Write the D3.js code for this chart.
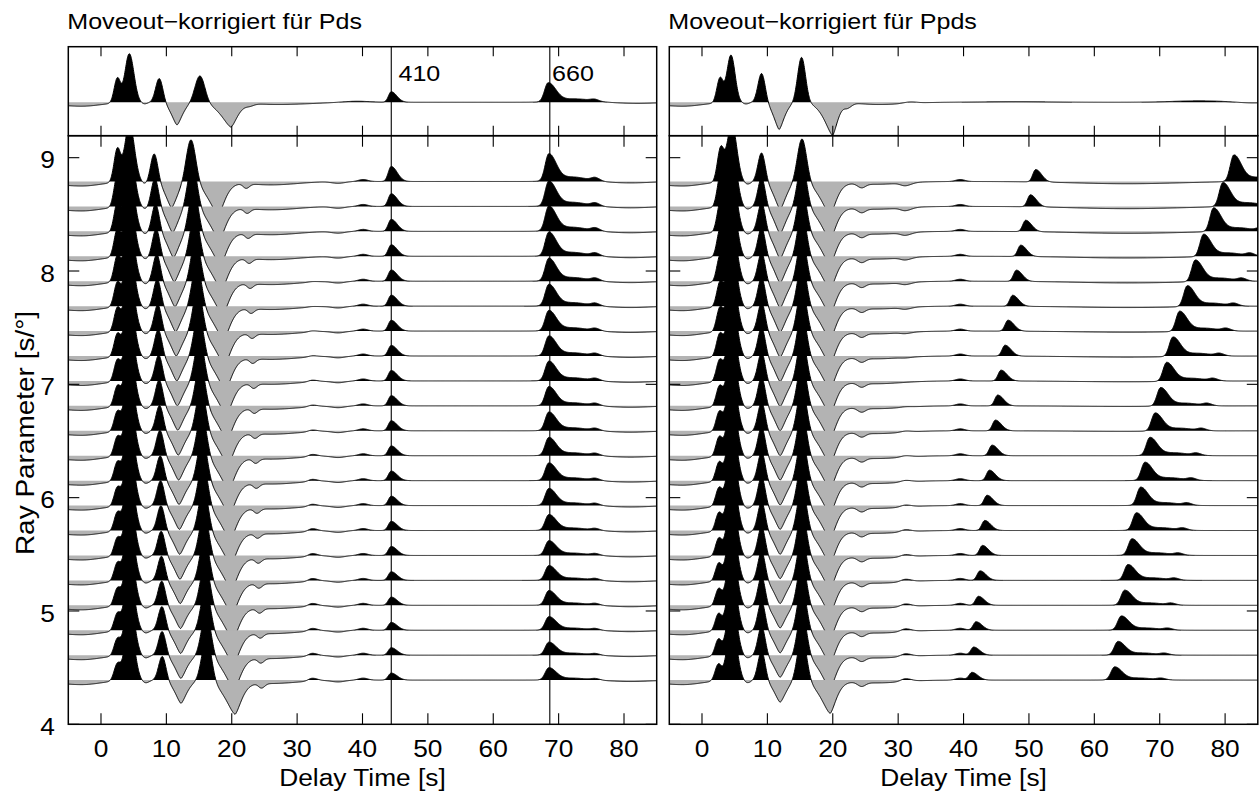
<!DOCTYPE html>
<html>
<head>
<meta charset="utf-8">
<script src="https://cdn.jsdelivr.net/npm/d3@7"></script>
<style>
  body { margin: 0; background: #fff; }
  svg text { font-family: "Liberation Sans", Arial, Helvetica, sans-serif; fill: #000; }
  .title { font-size: 22px; }
  .axis { font-size: 23.5px; }
</style>
</head>
<body>
<svg id="chart" width="1259" height="793"></svg>
<script>
// ---- data ----
const rayParams = [8.79, 8.57, 8.35, 8.13, 7.91, 7.69, 7.47, 7.25, 7.03, 6.81, 6.59, 6.37, 6.15, 5.93, 5.71, 5.49, 5.27, 5.05, 4.83, 4.61, 4.39];
const xTicks = [0, 10, 20, 30, 40, 50, 60, 70, 80];
const yTicks = [4, 5, 6, 7, 8, 9];
const titles = ['Moveout\u2212korrigiert für Pds', 'Moveout\u2212korrigiert für Ppds'];
const discLabels = ['410', '660'];
const discTimes = [44.4, 68.65];
const discLabelTimes = [45.5, 69.0];

// amplitude of the early (2.5 s) conversion, per trace, top to bottom
const shoulderAmp = [0.58, 0.55, 0.51, 0.48, 0.45, 0.42, 0.41, 0.39, 0.37, 0.35, 0.34, 0.335, 0.33, 0.32, 0.32, 0.31, 0.31, 0.30, 0.30, 0.29, 0.29];

// left panel (Pds moveout): multiples drift with ray parameter
const pdsPeak9 = [8.15, 8.26, 8.36, 8.45, 8.54, 8.62, 8.70, 8.77, 8.84, 8.91, 8.97, 9.03, 9.08, 9.13, 9.18, 9.22, 9.26, 9.30, 9.33, 9.36, 9.38];
const pdsTrough12 = [10.80, 10.96, 11.09, 11.21, 11.32, 11.42, 11.51, 11.60, 11.68, 11.75, 11.82, 11.88, 11.94, 11.99, 12.04, 12.08, 12.12, 12.16, 12.19, 12.22, 12.24];
const pdsPeak15 = [13.77, 13.98, 14.17, 14.35, 14.51, 14.66, 14.81, 14.95, 15.08, 15.20, 15.31, 15.42, 15.52, 15.61, 15.70, 15.78, 15.86, 15.94, 16.02, 16.10, 16.17];
const pdsTrough20 = [17.94, 18.12, 18.29, 18.46, 18.62, 18.77, 18.92, 19.06, 19.19, 19.32, 19.44, 19.56, 19.67, 19.78, 19.88, 19.98, 20.08, 20.18, 20.28, 20.39, 20.50];
const pdsDip = [22.2, 22.35, 22.5, 22.65, 22.8, 22.95, 23.1, 23.2, 23.35, 23.45, 23.55, 23.65, 23.75, 23.85, 23.95, 24.05, 24.15, 24.25, 24.35, 24.45, 24.55];
const pdsPeak9Amp = [0.51, 0.51, 0.50, 0.50, 0.49, 0.49, 0.48, 0.48, 0.47, 0.47, 0.46, 0.46, 0.45, 0.45, 0.45, 0.44, 0.44, 0.44, 0.43, 0.43, 0.43];
const pdsTrough12Amp = [-0.46, -0.46, -0.46, -0.45, -0.45, -0.45, -0.44, -0.44, -0.44, -0.43, -0.43, -0.43, -0.42, -0.42, -0.42, -0.42, -0.41, -0.41, -0.41, -0.41, -0.41];
const pdsBump32Amp = [0, 0, 0, 0, 0.01, 0.01, 0.02, 0.02, 0.03, 0.03, 0.03, 0.04, 0.04, 0.04, 0.05, 0.05, 0.05, 0.05, 0.05, 0.05, 0.05];
const pds410Amp = [0.265, 0.224, 0.212, 0.203, 0.198, 0.194, 0.19, 0.187, 0.184, 0.18, 0.177, 0.173, 0.169, 0.166, 0.162, 0.159, 0.152, 0.145, 0.138, 0.131, 0.124];
const pds660Amp = [0.47, 0.43, 0.43, 0.41, 0.39, 0.37, 0.35, 0.34, 0.335, 0.327, 0.318, 0.31, 0.30, 0.29, 0.27, 0.25, 0.25, 0.25, 0.23, 0.22, 0.21];

// right panel (Ppds moveout): 410 and 660 conversions drift
const ppdsShoulder = [2.85, 2.83, 2.81, 2.79, 2.77, 2.75, 2.73, 2.71, 2.69, 2.67, 2.65, 2.63, 2.61, 2.60, 2.58, 2.57, 2.55, 2.54, 2.52, 2.51, 2.50];
const ppds410 = [51.04, 50.23, 49.51, 48.75, 48.09, 47.52, 46.81, 46.35, 45.74, 45.23, 44.88, 44.37, 43.96, 43.6, 43.25, 42.9, 42.53, 42.28, 41.92, 41.56, 41.3];
const ppds660 = [81.34, 79.66, 78.24, 76.71, 75.44, 74.22, 73.04, 72.02, 71.06, 70.14, 69.3, 68.5, 67.74, 67.08, 66.42, 65.75, 65.14, 64.64, 64.13, 63.61, 63.1];
const ppds410Amp = [0.219, 0.212, 0.201, 0.2, 0.198, 0.194, 0.194, 0.192, 0.191, 0.191, 0.189, 0.187, 0.185, 0.182, 0.178, 0.177, 0.168, 0.159, 0.15, 0.143, 0.136];
const ppds660Amp = [0.454, 0.411, 0.406, 0.383, 0.371, 0.358, 0.348, 0.335, 0.325, 0.318, 0.311, 0.311, 0.312, 0.312, 0.30, 0.282, 0.268, 0.256, 0.242, 0.233, 0.224];
const ppdsTrough12Amp = [-0.49, -0.48, -0.48, -0.47, -0.47, -0.46, -0.46, -0.45, -0.45, -0.44, -0.44, -0.43, -0.43, -0.42, -0.42, -0.41, -0.41, -0.40, -0.40, -0.39, -0.39];
const ppdsBump31Amp = [-0.05, -0.05, -0.045, -0.04, -0.035, -0.03, -0.02, -0.01, 0, 0.01, 0.02, 0.025, 0.03, 0.035, 0.04, 0.04, 0.045, 0.05, 0.05, 0.05, 0.05];
const ppdsSagAmp = [-0.04, -0.04, -0.035, -0.03, -0.03, -0.025, -0.02, -0.02, -0.015, -0.01, -0.01, 0, 0, 0, 0, 0, 0, 0, 0, 0, 0];

// shape of the 660 arrival (main lobe, tail plateau, late bump)
const wave660Lag = [0, 3.6, 7.1];
const wave660Ratio = [1, 0.17, 0.12];
const wave660WL = [0.55, 2.2, 0.6];
const wave660WR = [1.1, 2.2, 0.7];

// stacked traces in the top strips: arrival time, amplitude, left/right width, shape
const stackPdsT = [-3, 2.5, 4.33, 6.6, 8.92, 11.63, 15.14, 19.88, 22.8, 27, 39, 44.4, 68.4, 72.5, 75.5, 82];
const stackPdsA = [-0.07, 0.43, 0.86, -0.03, 0.43, -0.40, 0.48, -0.43, -0.03, -0.04, 0.02, 0.185, 0.33, 0.06, 0.03, -0.02];
const stackPdsWL = [4, 0.48, 0.66, 0.5, 0.55, 0.75, 0.75, 1.3, 0.6, 4, 2, 0.42, 0.55, 2.5, 0.6, 3];
const stackPdsWR = [3, 0.48, 0.7, 0.5, 0.55, 0.75, 0.75, 0.9, 0.6, 5, 2, 0.85, 1.15, 2.5, 0.6, 3];
const stackPdsK = [2, 2, 2, 2, 2, 1.5, 2, 1.5, 2, 2, 2, 2, 2, 2, 2, 2];
const stackPpdsT = [-3, 2.75, 4.43, 6.7, 9.12, 11.8, 15.23, 19.97, 22.3, 27, 31.8, 48, 76, 84];
const stackPpdsA = [-0.07, 0.43, 0.835, -0.03, 0.52, -0.48, 0.8, -0.58, -0.07, -0.04, 0.025, 0.01, 0.025, -0.015];
const stackPpdsWL = [4, 0.48, 0.62, 0.5, 0.55, 0.72, 0.6, 1.1, 0.5, 3, 1, 5, 4, 2];
const stackPpdsWR = [3, 0.48, 0.62, 0.5, 0.55, 0.72, 0.6, 0.7, 0.6, 4, 1, 5, 4, 2];
const stackPpdsK = [2, 2, 2, 2, 2, 1.5, 2, 1.5, 2, 2, 2, 2, 2, 2];

// ---- phase tables for the per-ray-parameter traces ----
const pdsPhases = [
  { t: -3, a: -0.08, wl: 4, wr: 3, k: 2 },
  { t: 2.5, a: shoulderAmp, wl: 0.5, wr: 0.5, k: 2 },
  { t: 4.35, a: 1.02, wl: 0.7, wr: 0.75, k: 2 },
  { t: 6.8, a: -0.05, wl: 0.55, wr: 0.55, k: 2 },
  { t: pdsPeak9, a: pdsPeak9Amp, wl: 0.55, wr: 0.55, k: 2 },
  { t: pdsTrough12, a: pdsTrough12Amp, wl: 0.8, wr: 0.8, k: 1.5 },
  { t: pdsPeak15, a: 0.78, wl: 0.72, wr: 0.72, k: 2 },
  { t: pdsTrough20, a: -0.58, wl: 1.3, wr: 0.9, k: 1.5 },
  { t: pdsDip, a: -0.08, wl: 0.45, wr: 0.5, k: 2 },
  { t: 26, a: -0.06, wl: 4, wr: 4, k: 2 },
  { t: 32.3, a: pdsBump32Amp, wl: 0.6, wr: 0.8, k: 2 },
  { t: 36.3, a: -0.03, wl: 1, wr: 1, k: 2 },
  { t: 40.1, a: 0.035, wl: 0.7, wr: 0.7, k: 2 },
  { t: 44.4, a: pds410Amp, wl: 0.45, wr: 0.9, k: 2 },
  { t: 68.5, a: pds660Amp, wave: true },
  { t: 81, a: -0.025, wl: 3, wr: 3, k: 2 }
];
const ppdsPhases = [
  { t: -3, a: -0.08, wl: 4, wr: 3, k: 2 },
  { t: ppdsShoulder, a: shoulderAmp, wl: 0.5, wr: 0.5, k: 2 },
  { t: 4.55, a: 1.02, wl: 0.7, wr: 0.75, k: 2 },
  { t: 6.9, a: -0.05, wl: 0.55, wr: 0.55, k: 2 },
  { t: 9.12, a: 0.52, wl: 0.55, wr: 0.55, k: 2 },
  { t: 11.95, a: ppdsTrough12Amp, wl: 0.8, wr: 0.8, k: 1.5 },
  { t: 15.3, a: 0.78, wl: 0.7, wr: 0.7, k: 2 },
  { t: 19.6, a: -0.58, wl: 1.25, wr: 0.85, k: 1.5 },
  { t: 24.4, a: -0.07, wl: 0.6, wr: 0.6, k: 2 },
  { t: 26.5, a: -0.05, wl: 3.5, wr: 4, k: 2 },
  { t: 31.1, a: ppdsBump31Amp, wl: 0.7, wr: 0.9, k: 2 },
  { t: 39.5, a: 0.035, wl: 0.7, wr: 0.7, k: 2 },
  { t: ppds410, a: ppds410Amp, wl: 0.45, wr: 0.9, k: 2 },
  { t: 65, a: ppdsSagAmp, wl: 8, wr: 8, k: 2 },
  { t: ppds660, a: ppds660Amp, wave: true }
];

// ---- layout ----
const svg = d3.select('#chart');
const panelX = [[68.3, 656.7], [669.3, 1257.8]];
const stripTop = 46.7, stripBot = 135.7, mainBot = 724.3;
const gain = 0.5;           // ray-parameter units per amplitude unit
const titleStretch = 1.14;  // original lettering is wider than Arial
const axisStretch = 1.12;
const y = d3.scaleLinear().domain([4, 9.194]).range([mainBot, stripBot]);
const yStrip = d3.scaleLinear().domain([-0.59, 0.98]).range([stripBot, stripTop]);
const samples = d3.range(-5, 85.0001, 0.05);

const pick = (v, i) => Array.isArray(v) ? v[i] : v;

function pulsesFor(phases, i) {
  const out = [];
  phases.forEach((ph) => {
    const t0 = pick(ph.t, i), a = pick(ph.a, i);
    if (ph.wave) {
      wave660Lag.forEach((lag, j) => out.push({ t: t0 + lag, a: a * wave660Ratio[j], wl: wave660WL[j], wr: wave660WR[j], k: 2 }));
    } else {
      out.push({ t: t0, a, wl: ph.wl, wr: ph.wr, k: ph.k });
    }
  });
  return out;
}

function evalTrace(pulses) {
  return samples.map((t) => {
    let v = 0;
    pulses.forEach((p) => {
      const d = t - p.t, w = d < 0 ? p.wl : p.wr;
      v += p.a * Math.exp(-0.5 * Math.pow(Math.abs(d) / w, p.k));
    });
    return { t, v };
  });
}

function drawTrace(g, x, data, yOf) {
  const base = yOf(0);
  g.append('path').datum(data)
    .attr('fill', '#b3b3b3')
    .attr('d', d3.area().x((d) => x(d.t)).y0(base).y1((d) => yOf(Math.min(d.v, 0))));
  g.append('path').datum(data)
    .attr('fill', '#000')
    .attr('d', d3.area().x((d) => x(d.t)).y0(base).y1((d) => yOf(Math.max(d.v, 0))));
  g.append('path').datum(data)
    .attr('fill', 'none').attr('stroke', '#000').attr('stroke-width', 1)
    .attr('d', d3.line().x((d) => x(d.t)).y((d) => yOf(d.v)));
}

function label(g, txt, tx, ty, anchor, cls, sx, sy, rotate) {
  g.append('text')
    .attr('class', cls)
    .attr('transform', `translate(${tx},${ty}) scale(${sx},${sy})` + (rotate ? ' rotate(-90)' : ''))
    .attr('text-anchor', anchor)
    .text(txt);
}

const panels = [
  { phases: pdsPhases, stack: [stackPdsT, stackPdsA, stackPdsWL, stackPdsWR, stackPdsK], lines: true },
  { phases: ppdsPhases, stack: [stackPpdsT, stackPpdsA, stackPpdsWL, stackPpdsWR, stackPpdsK], lines: false }
];

panels.forEach((panel, pi) => {
  const [x0, x1] = panelX[pi];
  const x = d3.scaleLinear().domain([-5, 85]).range([x0, x1]);
  const g = svg.append('g');

  const clipId = 'clip' + pi;
  svg.append('clipPath').attr('id', clipId)
    .append('rect').attr('x', x0).attr('y', stripBot).attr('width', x1 - x0).attr('height', mainBot - stripBot);

  // stacked trace in the top strip
  const [sT, sA, sWL, sWR, sK] = panel.stack;
  const stackPulses = sT.map((t, j) => ({ t, a: sA[j], wl: sWL[j], wr: sWR[j], k: sK[j] }));
  drawTrace(g.append('g'), x, evalTrace(stackPulses), yStrip);

  // one trace per ray-parameter bin, top to bottom
  const traces = g.append('g').attr('clip-path', `url(#${clipId})`);
  rayParams.forEach((p, i) => {
    drawTrace(traces.append('g'), x, evalTrace(pulsesFor(panel.phases, i)), (v) => y(p + gain * v));
  });

  // discontinuity markers
  if (panel.lines) {
    discTimes.forEach((t, j) => {
      g.append('line').attr('x1', x(t)).attr('x2', x(t)).attr('y1', stripTop).attr('y2', mainBot)
        .attr('stroke', '#000').attr('stroke-width', 1.1);
      label(g, discLabels[j], x(discLabelTimes[j]), 80.5, 'start', 'title', titleStretch, 1);
    });
  }

  // frames
  [[stripTop, stripBot], [stripBot, mainBot]].forEach(([a, b]) => {
    g.append('rect').attr('x', x0).attr('y', a).attr('width', x1 - x0).attr('height', b - a)
      .attr('fill', 'none').attr('stroke', '#000').attr('stroke-width', 1.5);
  });

  // ticks
  const tk = g.append('g').attr('stroke', '#000').attr('stroke-width', 1.1);
  xTicks.forEach((t) => {
    const xx = x(t);
    [[stripTop, stripTop + 9.5], [stripBot - 10, stripBot], [stripBot, stripBot + 11], [mainBot - 11, mainBot]]
      .forEach(([a, b]) => tk.append('line').attr('x1', xx).attr('x2', xx).attr('y1', a).attr('y2', b));
    label(g, String(t), xx, 756.5, 'middle', 'axis', axisStretch, 1);
  });
  yTicks.forEach((v) => {
    const yy = y(v);
    tk.append('line').attr('x1', x0).attr('x2', x0 + 11).attr('y1', yy).attr('y2', yy);
    tk.append('line').attr('x1', x1 - 11).attr('x2', x1).attr('y1', yy).attr('y2', yy);
    if (pi === 0) label(g, String(v), 55, yy + 10.8, 'end', 'axis', axisStretch, 1);
  });

  label(g, titles[pi], x0 - 1, 29, 'start', 'title', titleStretch, 1);
  label(g, 'Delay Time [s]', (x0 + x1) / 2, 786, 'middle', 'axis', axisStretch, 1);
});

label(svg, 'Ray Parameter [s/°]', 33.5, 433, 'middle', 'axis', axisStretch, 1.19, true);
</script>
</body>
</html>
